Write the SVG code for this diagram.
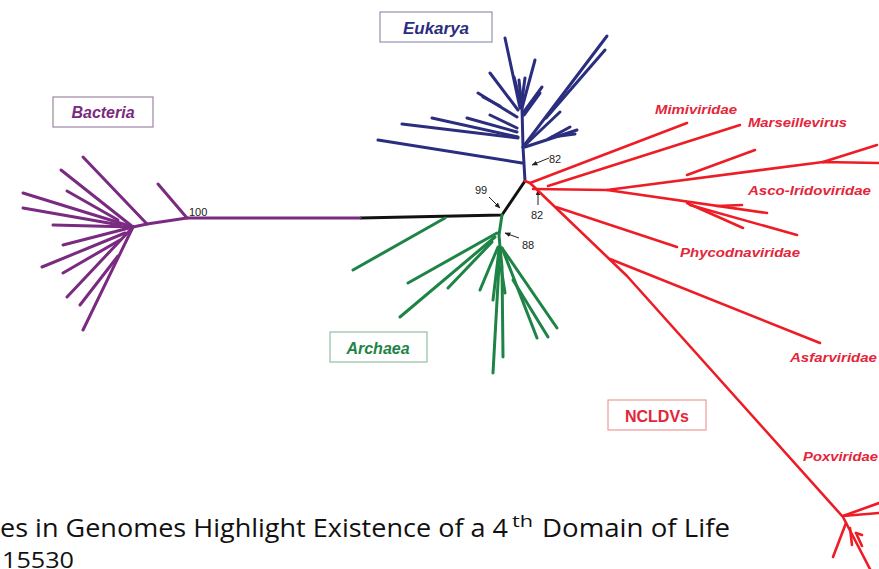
<svg xmlns="http://www.w3.org/2000/svg" width="879" height="569" viewBox="0 0 879 569">
<style>
.br{fill:none;stroke-linecap:round;stroke-linejoin:round;stroke-width:3}
.bac{stroke:#7a2a80}
.euk{stroke:#2b2e7e}
.arc{stroke:#1e8446}
.vir{stroke:#ee1c25;stroke-width:2.6}
.blk{stroke:#111;stroke-width:3;fill:none;stroke-linejoin:round}
.lab{font-family:"Liberation Sans",Arial,sans-serif;font-weight:bold;font-style:italic}
.num{font-family:"Liberation Sans",Arial,sans-serif;font-size:11px;fill:#222}
.vl{font-family:"Liberation Sans",Arial,sans-serif;font-weight:bold;font-style:italic;font-size:13px;fill:#e3263a}
.arr{stroke:#222;stroke-width:1;fill:none}
.cap{font-family:"Open Sans","Liberation Sans",sans-serif;fill:#111}
</style>
<defs>
<marker id="ah" viewBox="0 0 10 10" refX="9" refY="5" markerWidth="6" markerHeight="6" orient="auto"><path d="M0,1 L10,5 L0,9 z" fill="#222"/></marker>
</defs>
<rect width="879" height="569" fill="#fff"/>

<g id="connectors">
<polyline class="blk" points="360,218 502,215 525,181"/>
<line class="arr" x1="549" y1="158" x2="532" y2="165" marker-end="url(#ah)"/>
<line class="arr" x1="489" y1="197" x2="500" y2="208" marker-end="url(#ah)"/>
<line class="arr" x1="538" y1="205" x2="538" y2="190" marker-end="url(#ah)"/>
<line class="arr" x1="519" y1="238" x2="505" y2="233" marker-end="url(#ah)"/>
</g>

<g id="bacteria">
<polyline class="br bac" points="360,218 187,218 147,224 133,227"/>
<line class="br bac" x1="187" y1="218" x2="158" y2="184"/>
<line class="br bac" x1="147" y1="224" x2="83" y2="157"/>
<line class="br bac" x1="133" y1="227" x2="61" y2="170"/>
<line class="br bac" x1="118" y1="220" x2="67" y2="191"/>
<line class="br bac" x1="133" y1="227" x2="23" y2="193"/>
<line class="br bac" x1="120" y1="225" x2="23" y2="208"/>
<line class="br bac" x1="133" y1="227" x2="53" y2="225"/>
<line class="br bac" x1="133" y1="227" x2="63" y2="245"/>
<line class="br bac" x1="125" y1="233" x2="42" y2="267"/>
<line class="br bac" x1="120" y1="240" x2="63" y2="273"/>
<line class="br bac" x1="133" y1="227" x2="67" y2="297"/>
<line class="br bac" x1="118" y1="256" x2="80" y2="305"/>
<line class="br bac" x1="133" y1="227" x2="83" y2="330"/>
<rect x="53" y="97" width="100" height="30" fill="#fff" stroke="#9d86a3" stroke-width="1.2"/>
<text class="lab" x="103" y="118" font-size="16" fill="#7a2a80" text-anchor="middle">Bacteria</text>
<text class="num" x="189" y="216">100</text>
</g>

<g id="eukarya">
<polyline class="br euk" points="525,181 523,147 522,108 519,80"/>
<line class="br euk" x1="522" y1="163" x2="378" y2="140"/>
<line class="br euk" x1="518" y1="138" x2="402" y2="124"/>
<line class="br euk" x1="518" y1="137" x2="432" y2="118"/>
<line class="br euk" x1="517" y1="132" x2="467" y2="118"/>
<line class="br euk" x1="517" y1="128" x2="490" y2="115"/>
<line class="br euk" x1="517" y1="117" x2="478" y2="93"/>
<line class="br euk" x1="500" y1="106" x2="483" y2="97"/>
<line class="br euk" x1="518" y1="110" x2="490" y2="73"/>
<line class="br euk" x1="520" y1="108" x2="505" y2="38"/>
<line class="br euk" x1="520" y1="100" x2="514" y2="77"/>
<line class="br euk" x1="522" y1="100" x2="525" y2="78"/>
<line class="br euk" x1="522" y1="108" x2="535" y2="60"/>
<line class="br euk" x1="523" y1="113" x2="542" y2="87"/>
<line class="br euk" x1="524" y1="115" x2="540" y2="93"/>
<line class="br euk" x1="523" y1="147" x2="607" y2="36"/>
<line class="br euk" x1="546" y1="118" x2="605" y2="50"/>
<line class="br euk" x1="523" y1="147" x2="560" y2="112"/>
<line class="br euk" x1="525" y1="147" x2="577" y2="130"/>
<line class="br euk" x1="548" y1="139" x2="570" y2="127"/>
<line class="br euk" x1="552" y1="137" x2="575" y2="134"/>
<rect x="380" y="12" width="112" height="30" fill="#fff" stroke="#8f93b3" stroke-width="1.2"/>
<text class="lab" x="436" y="34" font-size="17" fill="#2b2e7e" text-anchor="middle">Eukarya</text>
<text class="num" x="549" y="163">82</text>
</g>

<g id="archaea">
<polyline class="br arc" points="502,215 499,235 500,247 502,267 503,357"/>
<line class="br arc" x1="445" y1="218" x2="353" y2="270"/>
<line class="br arc" x1="497" y1="233" x2="408" y2="283"/>
<line class="br arc" x1="495" y1="237" x2="400" y2="317"/>
<line class="br arc" x1="492" y1="242" x2="448" y2="288"/>
<line class="br arc" x1="498" y1="247" x2="480" y2="290"/>
<line class="br arc" x1="499" y1="250" x2="493" y2="300"/>
<line class="br arc" x1="501" y1="267" x2="505" y2="293"/>
<line class="br arc" x1="500" y1="247" x2="493" y2="373"/>
<line class="br arc" x1="502" y1="248" x2="537" y2="338"/>
<line class="br arc" x1="513" y1="280" x2="548" y2="337"/>
<line class="br arc" x1="502" y1="248" x2="557" y2="328"/>
<rect x="330" y="332" width="97" height="30" fill="#fff" stroke="#93bfa2" stroke-width="1.2"/>
<text class="lab" x="378" y="354" font-size="16" fill="#1e8446" text-anchor="middle">Archaea</text>
<text class="num" x="475" y="194">99</text>
<text class="num" x="531" y="219">82</text>
<text class="num" x="522" y="249" font-size="13">88</text>
</g>

<g id="ncldv">
<polyline class="br vir" points="525,181 530,183 627,276 843,517 870,569"/>
<line class="br vir" x1="530" y1="183" x2="687" y2="123"/>
<line class="br vir" x1="548" y1="186" x2="740" y2="125"/>
<polyline class="br vir" points="533,189 607,190 823,162 879,163"/>
<line class="br vir" x1="687" y1="175" x2="755" y2="150"/>
<line class="br vir" x1="823" y1="162" x2="877" y2="145"/>
<line class="br vir" x1="607" y1="190" x2="767" y2="213"/>
<line class="br vir" x1="687" y1="203" x2="743" y2="228"/>
<line class="br vir" x1="690" y1="205" x2="797" y2="235"/>
<line class="br vir" x1="717" y1="206" x2="742" y2="205"/>
<line class="br vir" x1="556" y1="207" x2="677" y2="247"/>
<line class="br vir" x1="610" y1="259" x2="820" y2="343"/>
<line class="br vir" x1="843" y1="516" x2="879" y2="503"/>
<line class="br vir" x1="843" y1="516" x2="879" y2="513"/>
<line class="br vir" x1="846" y1="523" x2="833" y2="557"/>
<line class="br vir" x1="850" y1="528" x2="852" y2="545"/>
<line class="br vir" x1="856" y1="533" x2="862" y2="546"/>
<line class="br vir" x1="856" y1="533" x2="862" y2="535"/>
<text class="vl" x="655" y="114" textLength="82" lengthAdjust="spacingAndGlyphs">Mimiviridae</text>
<text class="vl" x="748" y="127" textLength="99" lengthAdjust="spacingAndGlyphs">Marseillevirus</text>
<text class="vl" x="748" y="195" textLength="123" lengthAdjust="spacingAndGlyphs">Asco-Iridoviridae</text>
<text class="vl" x="680" y="257" textLength="120" lengthAdjust="spacingAndGlyphs">Phycodnaviridae</text>
<text class="vl" x="790" y="362" textLength="87" lengthAdjust="spacingAndGlyphs">Asfarviridae</text>
<text class="vl" x="803" y="461" textLength="75" lengthAdjust="spacingAndGlyphs">Poxviridae</text>
<rect x="608" y="400" width="98" height="30" fill="#fff" stroke="#ee9a9a" stroke-width="1.2"/>
<text x="657" y="422" font-family="Liberation Sans, Arial, sans-serif" font-weight="bold" font-size="16" fill="#e3263a" text-anchor="middle">NCLDVs</text>
</g>

<g id="caption">
<text class="cap" x="0" y="537" font-size="26" textLength="508" lengthAdjust="spacingAndGlyphs">es in Genomes Highlight Existence of a 4</text>
<text class="cap" x="512" y="527" font-size="16" textLength="21" lengthAdjust="spacingAndGlyphs">th</text>
<text class="cap" x="542" y="537" font-size="26" textLength="188" lengthAdjust="spacingAndGlyphs">Domain of Life</text>
<text class="cap" x="2" y="568" font-size="21" textLength="72" lengthAdjust="spacingAndGlyphs">15530</text>
</g>
</svg>
